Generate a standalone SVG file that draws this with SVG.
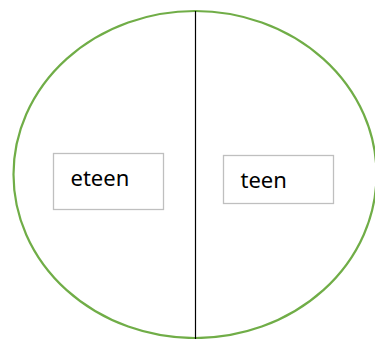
<svg xmlns="http://www.w3.org/2000/svg" width="375" height="339" viewBox="0 0 375 339">
  <style>
    .box { fill: #ffffff; stroke: #bfbfbf; stroke-width: 1.3; }
    .lbl { font-family: "Noto Sans", "Open Sans", sans-serif; font-size: 22px; fill: #000000; }
  </style>
  <rect width="375" height="339" fill="#ffffff"/>
  <g id="circle">
    <ellipse cx="195" cy="174.5" rx="181.5" ry="163.5" fill="none" stroke="#70ad47" stroke-width="2.2"/>
  </g>
  <g id="connectors">
    <line x1="195.5" y1="11" x2="195.5" y2="339" stroke="#000000" stroke-width="1.2"/>
  </g>
  <g id="node-eteen">
    <rect class="box" x="53.5" y="153.5" width="110" height="56"/>
    <text class="lbl" x="70.5" y="185.5">eteen</text>
  </g>
  <g id="node-teen">
    <rect class="box" x="223.5" y="155.5" width="110" height="48"/>
    <text class="lbl" x="240.5" y="187.5">teen</text>
  </g>
</svg>
